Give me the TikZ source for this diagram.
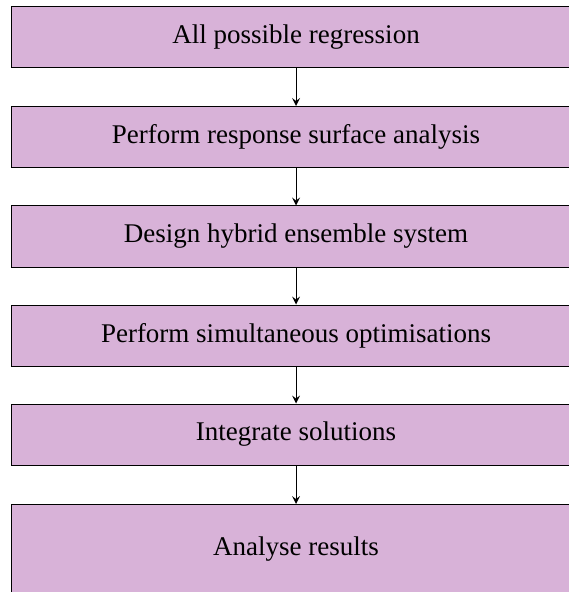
\documentclass[tikz,border=0pt]{standalone}
\usepackage{fontspec}
\setmainfont{Liberation Serif}
\definecolor{boxfill}{RGB}{216,178,216}
\begin{document}
\begin{tikzpicture}[x=0.4pt,y=-0.4pt,
  stage/.style={draw,fill=boxfill,minimum width=227.2pt,minimum height=24.4pt,inner sep=0pt,font=\fontsize{10.8}{13}\selectfont},
  flow/.style={->,>=stealth,line width=0.4pt}]
\useasboundingbox (0,0) rectangle (568,592);

\node[stage] (regr) at (296,37.5) {All possible regression};
\node[stage] (resp) at (296,137) {Perform response surface analysis};
\node[stage] (ens) at (296,236.5) {Design hybrid ensemble system};
\node[stage] (optim) at (296,335.5) {Perform simultaneous optimisations};
\node[stage] (integ) at (296,434.5) {Integrate solutions};
\node[stage,minimum height=0pt,text height=20.4pt,text depth=22pt,anchor=north] (res) at (296,504) {Analyse results};

\draw[flow] (regr) -- (resp);
\draw[flow] (resp) -- (ens);
\draw[flow] (ens) -- (optim);
\draw[flow] (optim) -- (integ);
\draw[flow] (integ) -- (res);
\end{tikzpicture}
\end{document}
